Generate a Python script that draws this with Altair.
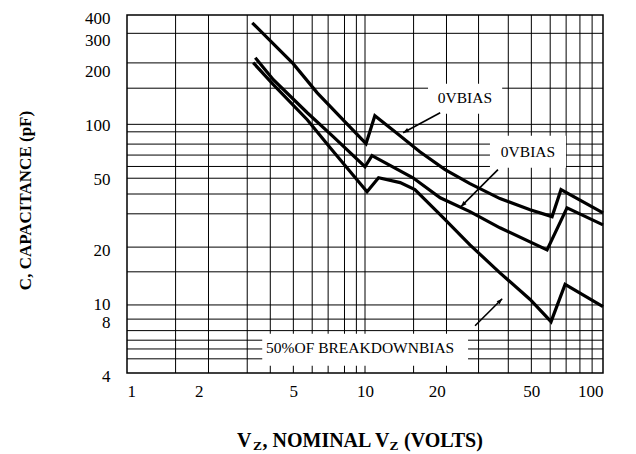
import altair as alt
import pandas as pd

# ---- data -------------------------------------------------------------------
top_v = [3.36, 4.99, 6.30, 7.87, 10.1, 11.0, 13.7, 17.0, 21.7, 27.6, 36.9, 49.4, 61.1, 66.6, 100]
top_c = [362, 214, 147, 108, 76.4, 109.5, 86.9, 68.9, 54.7, 45.7, 37.7, 32.7, 29.9, 42.3, 31.4]

mid_v = [3.46, 4.12, 5.72, 7.35, 10.0, 10.7, 15.9, 20.7, 27.6, 36.9, 58.2, 70.6, 100]
mid_c = [231, 174, 113.8, 83.6, 56.8, 65.5, 49.3, 38.1, 31.9, 25.9, 19.5, 33.5, 26.9]

low_v = [3.39, 4.12, 5.72, 7.14, 10.2, 11.4, 14.05, 16.2, 21.3, 27.6, 36.9, 49.4, 60.5, 69.3, 100]
low_c = [216.6, 163.2, 104, 72.6, 41.2, 49.3, 46.3, 42.3, 29.5, 20.8, 14.5, 10.3, 7.74, 12.5, 9.38]

x_ticks = [1, 2, 5, 10, 20, 50, 100]
y_ticks = [4, 8, 10, 20, 50, 100, 200, 300, 400]
x_grid = [1.6, 2.2, 3.2, 4, 5, 6, 7, 8.2, 9.2, 10, 16, 22, 30, 40, 50, 60, 70, 80, 90]
y_grid = [4.8, 5.45, 6.1, 6.9, 8, 9.6, 14.7, 20.2, 31, 40, 49, 57, 66, 76, 89, 98, 156, 216, 316]

labels = ["0VBIAS", "0VBIAS", "50%OF BREAKDOWNBIAS"]
label_v = [26.3, 48.4, 9.54]
label_c = [138, 68.9, 5.54]
box_v1 = [18.4, 33.5, 3.70]
box_v2 = [37.7, 69.9, 27.1]
box_c1 = [112.4, 56.1, 4.39]
box_c2 = [165, 84.7, 6.63]

arrow_v_from = [20.7, 36.2, 29.0]
arrow_c_from = [113.8, 54.7, 7.35]
arrow_v_to = [14.46, 25.3, 37.7]
arrow_c_to = [88.0, 34.0, 10.4]
arrow_angle = [241.6, 225, 45]

# ---- tables ------------------------------------------------------------------
curves = pd.concat([
    pd.DataFrame({"v": top_v, "c": top_c, "s": "top", "o": range(len(top_v))}),
    pd.DataFrame({"v": mid_v, "c": mid_c, "s": "mid", "o": range(len(mid_v))}),
    pd.DataFrame({"v": low_v, "c": low_c, "s": "low", "o": range(len(low_v))}),
])
ann = pd.DataFrame({"t": labels, "v": label_v, "c": label_c,
                    "v1": box_v1, "v2": box_v2, "c1": box_c1, "c2": box_c2})
arr = pd.DataFrame({"v": arrow_v_from, "c": arrow_c_from,
                    "vt": arrow_v_to, "ct": arrow_c_to, "ang": arrow_angle})

FONT = "Liberation Serif"
xs = alt.Scale(type="log", domain=[1, 100], nice=False)
ys = alt.Scale(type="log", domain=[4, 400], nice=False)

x_axis = alt.Axis(values=x_ticks, grid=False, ticks=False, domain=False, labelFlush=True,
                  labelFont=FONT, labelFontSize=17, labelColor="black", labelPadding=10,
                  labelOverlap=False, format="d", title=None)
y_axis = alt.Axis(values=y_ticks, grid=False, ticks=False, domain=False,
                  labelFont=FONT, labelFontSize=17, labelColor="black", labelPadding=17,
                  labelOffset=3, labelOverlap=False, format="d",
                  title="C, CAPACITANCE (pF)", titleFont=FONT, titleFontSize=17,
                  titleFontWeight="bold", titleColor="black", titleX=-102, titleY=185,
                  titleAlign="center", titleBaseline="middle", titleAngle=270)

X = lambda f: alt.X(f, type="quantitative", scale=xs, axis=x_axis)
Y = lambda f: alt.Y(f, type="quantitative", scale=ys, axis=y_axis)

vgrid = alt.Chart(pd.DataFrame({"v": x_grid})).mark_rule(color="black", strokeWidth=1).encode(x=X("v"))
hgrid = alt.Chart(pd.DataFrame({"c": y_grid})).mark_rule(color="black", strokeWidth=1).encode(y=Y("c"))

boxes = alt.Chart(ann).mark_rect(fill="white").encode(
    x=X("v1"), x2="v2", y=Y("c1"), y2="c2")

lines = alt.Chart(curves).mark_line(color="black", strokeWidth=3.2, strokeJoin="miter").encode(
    x=X("v"), y=Y("c"), detail="s:N", order="o:Q")

shafts = alt.Chart(arr).mark_rule(color="black", strokeWidth=1.6).encode(
    x=X("v"), y=Y("c"), x2="vt", y2="ct")
heads = alt.Chart(arr).mark_point(shape="M0,0 L-0.38,1 L0.38,1 Z", filled=True, color="black",
                                  size=130, opacity=1).encode(
    x=X("vt"), y=Y("ct"), angle=alt.Angle("ang:Q", scale=None))

texts = alt.Chart(ann).mark_text(font=FONT, fontSize=15.5, color="black").encode(
    x=X("v"), y=Y("c"), text="t:N")

# x-axis title with subscripts
tpieces = pd.DataFrame({
    "t": ["V", "Z", ", NOMINAL V", "Z", "(VOLTS)"],
    "px": [110.0, 126.0, 135.5, 262.5, 277.0],
    "py": [425.7, 430.5, 425.7, 430.5, 425.7],
    "fs": [20, 13.5, 20, 13.5, 20],
})
xtitle = alt.Chart(tpieces).mark_text(font=FONT, fontWeight="bold", color="black",
                                      align="left", baseline="middle").encode(
    x=alt.X("px:Q", scale=None), y=alt.Y("py:Q", scale=None), text="t:N",
    size=alt.Size("fs:Q", scale=None))

chart = alt.layer(vgrid, hgrid, boxes, lines, shafts, heads, texts, xtitle).properties(
    width=476, height=358,
    autosize=alt.AutoSizeParams(type="none"),
    padding={"left": 119, "top": 7, "right": 25, "bottom": 81},
    background="white",
).configure_view(stroke="black", strokeWidth=1.5)

chart.save("out.html", embed_options={"renderer": "svg", "actions": False})
